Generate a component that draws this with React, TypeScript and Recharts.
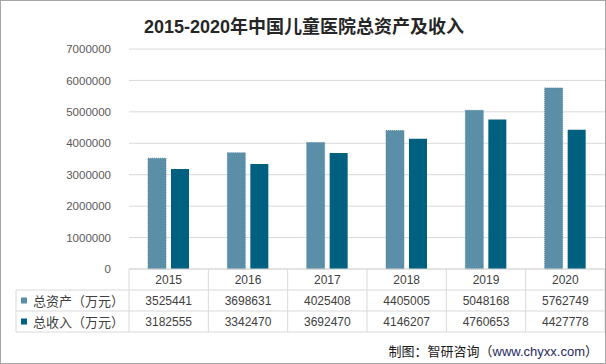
import React from 'react';
import { BarChart, Bar, XAxis, YAxis, CartesianGrid } from 'recharts';

const title = '2015-2020年中国儿童医院总资产及收入';
const years = ['2015', '2016', '2017', '2018', '2019', '2020'];
const assets = [3525441, 3698631, 4025408, 4405005, 5048168, 5762749];
const revenue = [3182555, 3342470, 3692470, 4146207, 4760653, 4427778];
const seriesNames = ['总资产（万元）', '总收入（万元）'];
const yTicks = [0, 1000000, 2000000, 3000000, 4000000, 5000000, 6000000, 7000000];
const sourceLabel = '制图：智研咨询（';
const sourceUrl = 'www.chyxx.com';
const sourceEnd = '）';

const COLORS = ['#5B8FA7', '#00607F'];
const GRID = '#D9D9D9';
const TEXT = '#404040';
const NUM_FONT = '"Liberation Sans", "Noto Sans CJK SC", sans-serif';
const CJK_FONT = '"Noto Sans CJK SC", "Liberation Sans", sans-serif';

const data = years.map((y, i) => ({ year: y, assets: assets[i], revenue: revenue[i] }));
const seriesValues = [assets, revenue];

const ROW_H = 21;
const LEGEND_LEFT = 16;

const TableTick = (props: any) => {
  const { x, y, payload, index } = props;
  const half = payload && payload.offset ? payload.offset : 39.67;
  const left = x - half;
  const right = x + half;
  const i = index ?? years.indexOf(payload.value);
  const els: any[] = [];
  els.push(<line key="vl" x1={left} x2={left} y1={y} y2={y + ROW_H * 3} stroke={GRID} />);
  if (i === years.length - 1) {
    els.push(<line key="vr" x1={right} x2={right} y1={y} y2={y + ROW_H * 3} stroke={GRID} />);
  }
  for (let r = 1; r <= 3; r++) {
    els.push(<line key={'h' + r} x1={left} x2={right} y1={y + ROW_H * r} y2={y + ROW_H * r} stroke={GRID} />);
  }
  els.push(
    <text key="yr" x={x} y={y + ROW_H / 2} textAnchor="middle" dominantBaseline="central" fill={TEXT} fontSize={12} fontFamily={NUM_FONT}>
      {payload.value}
    </text>
  );
  seriesValues.forEach((vals, s) => {
    els.push(
      <text key={'v' + s} x={x} y={y + ROW_H * (s + 1.5)} textAnchor="middle" dominantBaseline="central" fill={TEXT} fontSize={12} fontFamily={NUM_FONT}>
        {vals[i]}
      </text>
    );
  });
  if (i === 0) {
    els.push(<line key="ll" x1={LEGEND_LEFT} x2={LEGEND_LEFT} y1={y + ROW_H} y2={y + ROW_H * 3} stroke={GRID} />);
    for (let r = 1; r <= 3; r++) {
      els.push(<line key={'lh' + r} x1={LEGEND_LEFT} x2={left} y1={y + ROW_H * r} y2={y + ROW_H * r} stroke={GRID} />);
    }
    seriesNames.forEach((n, s) => {
      const cy = y + ROW_H * (s + 1.5);
      els.push(<rect key={'sq' + s} x={LEGEND_LEFT + 5} y={cy - 3} width={6} height={6} fill={COLORS[s]} />);
      els.push(
        <text key={'ln' + s} x={LEGEND_LEFT + 17} y={cy} dominantBaseline="central" fill={TEXT} fontSize={13} fontFamily={CJK_FONT}>
          {n}
        </text>
      );
    });
  }
  return <g>{els}</g>;
};

export default function App() {
  return (
    <div
      style={{
        position: 'absolute',
        left: 0,
        top: 0,
        width: 606,
        height: 364,
        boxSizing: 'border-box',
        border: '1px solid #A6A6A6',
        background: '#fff',
        overflow: 'hidden',
      }}
    >
      <div
        style={{
          position: 'absolute',
          left: 0,
          top: 12,
          width: 606,
          textAlign: 'center',
          fontFamily: CJK_FONT,
          fontWeight: 'bold',
          fontSize: 18,
          lineHeight: '24px',
          color: '#262626',
        }}
      >
        <span style={{ fontFamily: NUM_FONT }}>{title.slice(0, 9)}</span>
        {title.slice(9)}
      </div>
      <div style={{ position: 'absolute', left: -1, top: -1 }}>
        <BarChart
          width={606}
          height={364}
          data={data}
          margin={{ top: 49, right: 1, left: 0, bottom: 0 }}
          barSize={18}
          barGap={5}
        >
          <CartesianGrid vertical={false} stroke={GRID} />
          <YAxis
            width={129}
            domain={[0, 7000000]}
            ticks={yTicks}
            interval={0}
            axisLine={false}
            tickLine={false}
            tickMargin={12}
            tick={{ fill: '#595959', fontSize: 11.5, fontFamily: NUM_FONT }}
          />
          <XAxis
            dataKey="year"
            height={95}
            interval={0}
            tickLine={false}
            tickSize={0}
            tickMargin={0}
            axisLine={{ stroke: GRID }}
            tick={<TableTick />}
          />
          <Bar dataKey="assets" fill={COLORS[0]} stroke="#4C7F98" strokeDasharray="1 1" strokeWidth={0.8} isAnimationActive={false} />
          <Bar dataKey="revenue" fill={COLORS[1]} isAnimationActive={false} />
        </BarChart>
      </div>
      <div
        style={{
          position: 'absolute',
          right: 7,
          top: 340,
          fontFamily: CJK_FONT,
          fontSize: 13,
          lineHeight: '20px',
          color: '#1a1a1a',
          whiteSpace: 'nowrap',
        }}
      >
        {sourceLabel}
        <span style={{ fontFamily: NUM_FONT, color: '#1F2A60' }}>{sourceUrl}</span>
        {sourceEnd}
      </div>
    </div>
  );
}
